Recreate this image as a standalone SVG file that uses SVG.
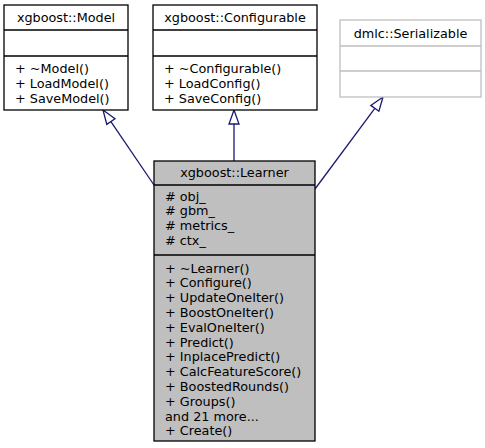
<svg xmlns="http://www.w3.org/2000/svg" width="485" height="448" viewBox="0 0 485 448">
<style>
text{font-family:"DejaVu Sans","Liberation Sans",sans-serif;font-size:12.8px;fill:#000}
.c{text-anchor:middle}
.box{fill:#fff;stroke:#000;stroke-width:1.3}
.ln{stroke:#000;stroke-width:1.3;fill:none}
.gbox{fill:#fff;stroke:#bfbfbf;stroke-width:1.3}
.gln{stroke:#bfbfbf;stroke-width:1.3;fill:none}
.lbox{fill:#bfbfbf;stroke:#000;stroke-width:1.3}
.edge{stroke:#191970;stroke-width:1.3;fill:none}
.head{fill:#fff;stroke:#191970;stroke-width:1.3}
</style>
<rect width="485" height="448" fill="#fff"/>
<g id="connectors">
<path class="edge" d="M154,185 L110.9,121.6"/>
<polygon class="head" points="103,110 115,118.8 106.8,124.4"/>
<path class="edge" d="M234,161 L234,124"/>
<polygon class="head" points="234,110 239,124 229,124"/>
<path class="edge" d="M315,189 L374.8,108.3"/>
<polygon class="head" points="383,97 378.9,111.2 370.8,105.4"/>
</g>
<g id="model">
<rect class="box" x="4" y="5" width="124" height="105"/>
<path class="ln" d="M4,30H128M4,56H128"/>
<text class="c" x="66" y="22">xgboost::Model</text>
<text x="15" y="73">+ ~Model()</text>
<text x="15" y="88">+ LoadModel()</text>
<text x="15" y="103">+ SaveModel()</text>
</g>
<g id="configurable">
<rect class="box" x="153" y="5" width="164" height="105"/>
<path class="ln" d="M153,30H317M153,56H317"/>
<text class="c" x="235" y="22">xgboost::Configurable</text>
<text x="164" y="73">+ ~Configurable()</text>
<text x="164" y="88">+ LoadConfig()</text>
<text x="164" y="103">+ SaveConfig()</text>
</g>
<g id="serializable">
<rect class="gbox" x="340" y="20" width="141" height="77"/>
<path class="gln" d="M340,46H481M340,71H481"/>
<text class="c" x="410.5" y="37.5">dmlc::Serializable</text>
</g>
<g id="learner">
<rect class="lbox" x="154" y="161" width="161" height="280"/>
<path class="ln" d="M154,185H315M154,255H315"/>
<text class="c" x="234.5" y="177">xgboost::Learner</text>
<text x="165" y="200.5"># obj_</text>
<text x="165" y="215.3"># gbm_</text>
<text x="165" y="230.1"># metrics_</text>
<text x="165" y="244.9"># ctx_</text>
<text x="165" y="272.5">+ ~Learner()</text>
<text x="165" y="287.3">+ Configure()</text>
<text x="165" y="302.1">+ UpdateOneIter()</text>
<text x="165" y="316.9">+ BoostOneIter()</text>
<text x="165" y="331.7">+ EvalOneIter()</text>
<text x="165" y="346.5">+ Predict()</text>
<text x="165" y="361.3">+ InplacePredict()</text>
<text x="165" y="376.1">+ CalcFeatureScore()</text>
<text x="165" y="390.9">+ BoostedRounds()</text>
<text x="165" y="405.7">+ Groups()</text>
<text x="165" y="420.5">and 21 more...</text>
<text x="165" y="435.3">+ Create()</text>
</g>
</svg>
